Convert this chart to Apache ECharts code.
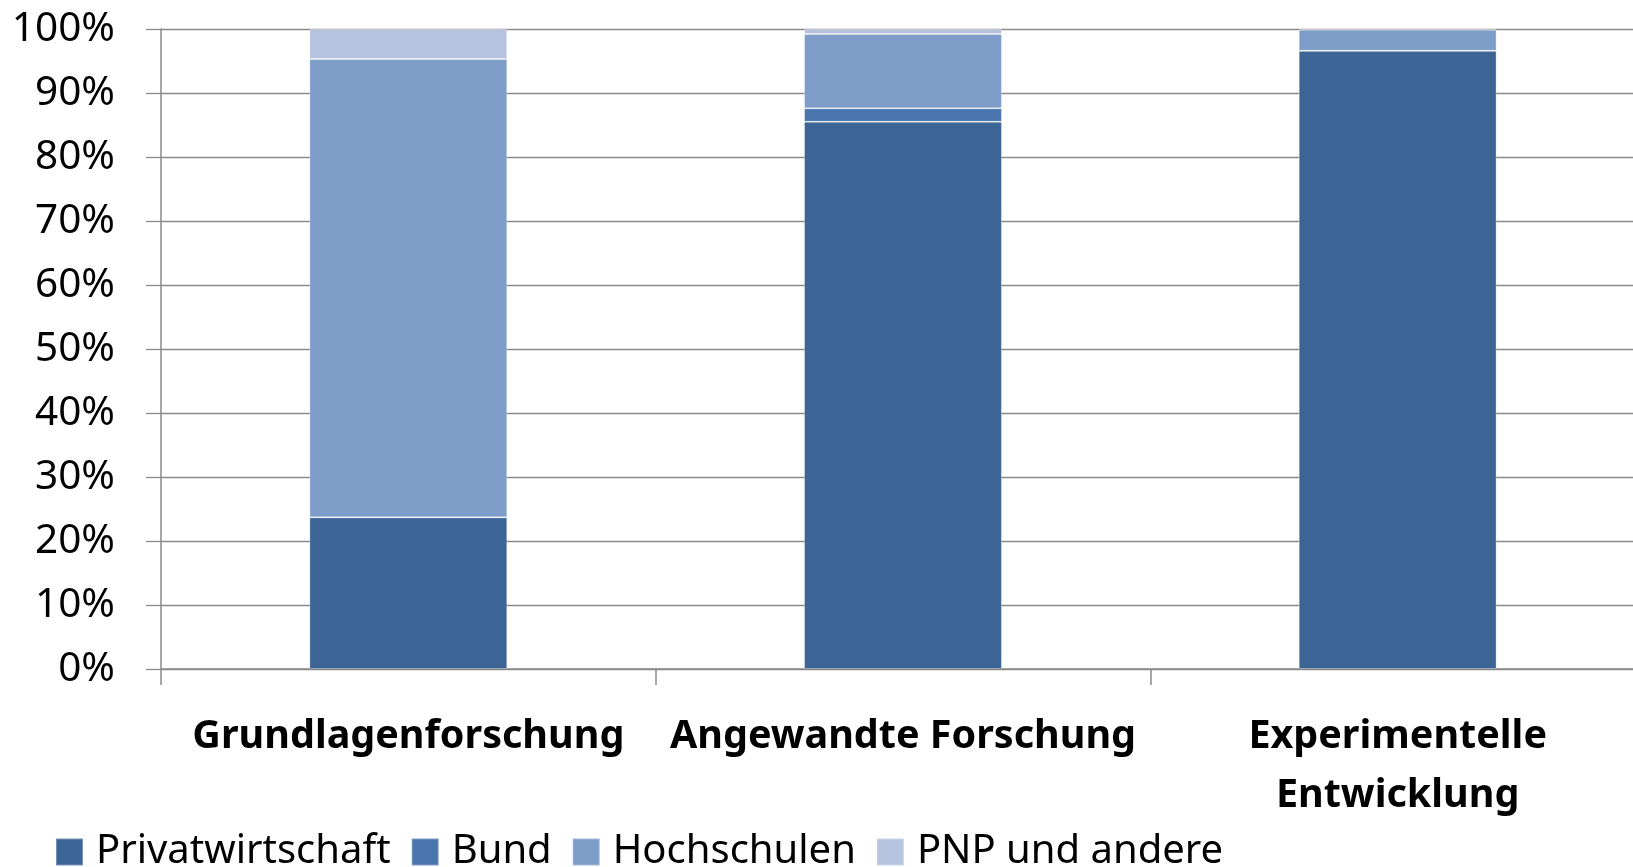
<!DOCTYPE html>
<html>
<head>
<meta charset="utf-8">
<script src="https://cdn.jsdelivr.net/npm/echarts@6/dist/echarts.min.js"></script>
<style>
  html, body { margin: 0; padding: 0; background: #fff; }
  #chart { width: 1633px; height: 867px; }
</style>
</head>
<body>
<div id="chart"></div>
<script>
// Kategorien
var categories = ['Grundlagenforschung', 'Angewandte Forschung', 'Experimentelle\nEntwicklung'];
// Anteile in %
var privatwirtschaft = [23.7, 85.5, 96.6];
var bund = [0, 2.1, 0];
var hochschulen = [71.6, 11.6, 3.3];
var pnpUndAndere = [4.7, 0.8, 0.1];
var seriesNames = ['Privatwirtschaft', 'Bund', 'Hochschulen', 'PNP und andere'];
var seriesColors = ['#3C6494', '#4775AC', '#7E9CC8', '#B5C3DE'];

var chart = echarts.init(document.getElementById('chart'));

function bar(name, data, color) {
  return {
    name: name,
    type: 'bar',
    stack: 'gesamt',
    barWidth: '40%',
    data: data,
    itemStyle: { color: color, borderColor: 'rgba(255,255,255,0.3)', borderWidth: 1 }
  };
}

chart.setOption({
  animation: false,
  textStyle: { fontFamily: 'Noto Sans' },
  legend: {
    left: 50,
    top: 827,
    itemWidth: 27,
    itemHeight: 27,
    itemGap: 20,
    icon: 'rect',
    textStyle: { fontSize: 40, color: '#000', padding: [0, 0, 0, 8] },
    data: seriesNames
  },
  grid: { left: 161, right: -12, top: 29, bottom: 198, containLabel: false, outerBoundsMode: 'none' },
  xAxis: {
    type: 'category',
    data: categories,
    axisLine: { lineStyle: { color: '#8a8a8a', width: 1.5 } },
    axisTick: { show: true, length: 16, lineStyle: { color: '#8a8a8a', width: 1.5 } },
    axisLabel: {
      color: '#000',
      fontSize: 39.5,
      fontWeight: 'bold',
      lineHeight: 59,
      margin: 38,
      interval: 0,
      hideOverlap: false
    }
  },
  yAxis: {
    type: 'value',
    min: 0,
    max: 100,
    interval: 10,
    axisLine: { show: true, lineStyle: { color: '#8a8a8a', width: 1.5 } },
    axisTick: { show: true, length: 15, lineStyle: { color: '#8a8a8a', width: 1.3 } },
    splitLine: { lineStyle: { color: '#8a8a8a', width: 1.3 } },
    axisLabel: { color: '#000', fontSize: 40.5, margin: 46, formatter: '{value}%' }
  },
  series: [
    bar(seriesNames[0], privatwirtschaft, seriesColors[0]),
    bar(seriesNames[1], bund, seriesColors[1]),
    bar(seriesNames[2], hochschulen, seriesColors[2]),
    bar(seriesNames[3], pnpUndAndere, seriesColors[3])
  ]
});
</script>
</body>
</html>
